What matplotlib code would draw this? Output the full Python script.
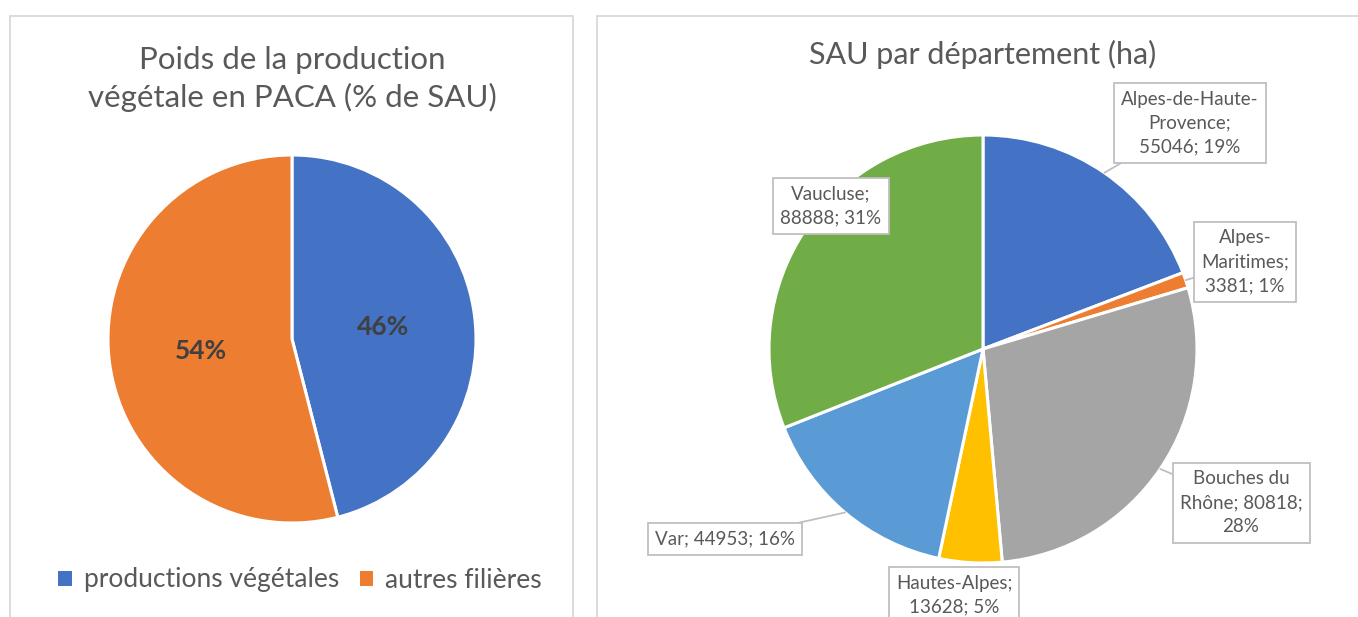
import matplotlib
matplotlib.use("Agg")
import matplotlib.pyplot as plt
from matplotlib.patches import Rectangle
import numpy as np

# ---------------- data ----------------
left_title = "Poids de la production\nvégétale en PACA (% de SAU)"
left_labels = ["productions végétales", "autres filières"]
left_values = [46, 54]
left_colors = ["#4472C4", "#ED7D31"]

right_title = "SAU par département (ha)"
dept_names = ["Alpes-de-Haute-Provence", "Alpes-Maritimes", "Bouches du Rhône",
              "Hautes-Alpes", "Var", "Vaucluse"]
dept_label_text = ["Alpes-de-Haute-\nProvence;\n55046; 19%",
                   "Alpes-\nMaritimes;\n3381; 1%",
                   "Bouches du\nRhône; 80818;\n28%",
                   "Hautes-Alpes;\n13628; 5%",
                   "Var; 44953; 16%",
                   "Vaucluse;\n88888; 31%"]
dept_values = [55046, 3381, 80818, 13628, 44953, 88888]
dept_colors = ["#4472C4", "#ED7D31", "#A5A5A5", "#FFC000", "#5B9BD5", "#70AD47"]

# ---------------- layout (pixel coords, y from top) ----------------
W, H = 1358, 617
FONT = "Lato"
TXT = "#595959"

fig = plt.figure(figsize=(W / 100, H / 100), dpi=100)
ax = fig.add_axes([0, 0, 1, 1])

def Y(y):
    return H - y

# panel frames
ax.add_patch(Rectangle((10, Y(640)), 563, 624, fill=False, edgecolor="#D9D9D9", linewidth=1.3))
ax.add_patch(Rectangle((597, Y(640)), 800, 624, fill=False, edgecolor="#D9D9D9", linewidth=1.3))

# ---------------- left pie ----------------
lc = (292, Y(339)); lr = 184
wl, _, autot = ax.pie(left_values, colors=left_colors, startangle=90, counterclock=False,
                      center=lc, radius=lr, autopct="%d%%", pctdistance=0.5,
                      wedgeprops=dict(edgecolor="white", linewidth=2.2),
                      textprops=dict(color="#404040", fontsize=19, fontweight="bold",
                                     family=FONT))
ax.text(292, Y(79), left_title, ha="center", va="center", fontsize=22.5,
        color=TXT, family=FONT, linespacing=1.37)

leg = ax.legend(wl, left_labels, loc="center", bbox_to_anchor=(300 / W, 1 - 580 / H),
                ncol=2, frameon=False, handlelength=0.5, handleheight=0.5,
                handletextpad=0.45, columnspacing=0.8,
                prop=dict(family=FONT, size=19))
for t in leg.get_texts():
    t.set_color(TXT)
for h in leg.legend_handles:
    h.set_edgecolor("none")

# ---------------- right pie ----------------
rc = (983, Y(349)); rr = 214
wr, _ = ax.pie(dept_values, colors=dept_colors, startangle=90, counterclock=False,
               center=rc, radius=rr,
               wedgeprops=dict(edgecolor="white", linewidth=2.2))
ax.text(983, Y(54), right_title, ha="center", va="center", fontsize=22,
        color=TXT, family=FONT)

# label box centres (pixels) and whether a leader line is drawn
label_pos = [(1190, 123), (1245, 262), (1241, 503), (954, 595), (725, 539), (831, 206)]
leader = [True, True, True, False, True, False]

for w, txt, (bx, by), ld in zip(wr, dept_label_text, label_pos, leader):
    mid = np.deg2rad((w.theta1 + w.theta2) / 2)
    tip = (rc[0] + rr * np.cos(mid), rc[1] + rr * np.sin(mid))
    bbox = dict(boxstyle="square,pad=0.38", facecolor="white", edgecolor="#BFBFBF", linewidth=1.3)
    if ld:
        ax.annotate(txt, xy=tip, xytext=(bx, Y(by)), ha="center", va="center",
                    fontsize=13.5, color=TXT, family=FONT, linespacing=1.5, bbox=bbox,
                    arrowprops=dict(arrowstyle="-", color="#BFBFBF", linewidth=1.3,
                                    shrinkA=0, shrinkB=0))
    else:
        ax.text(bx, Y(by), txt, ha="center", va="center", fontsize=13.5, color=TXT,
                family=FONT, linespacing=1.5, bbox=bbox)

ax.set_xlim(0, W)
ax.set_ylim(0, H)
ax.set_aspect("auto")
ax.axis("off")

fig.savefig("out.png", dpi=100, facecolor="white")
